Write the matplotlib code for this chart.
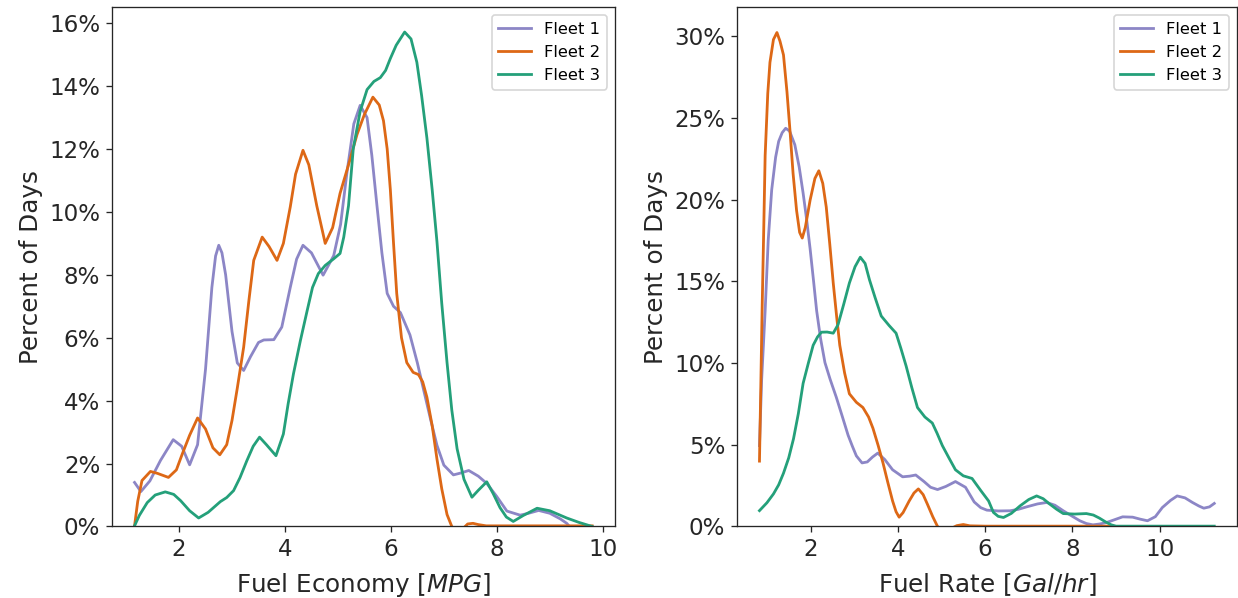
import matplotlib
matplotlib.use('Agg')
import matplotlib.pyplot as plt
from matplotlib.ticker import PercentFormatter

# Fuel economy [MPG] vs percent of days
mpg_f1_x = [1.16, 1.28, 1.45, 1.65, 1.89, 2.05, 2.2, 2.35, 2.5, 2.62, 2.69, 2.75, 2.81, 2.88, 3.0, 3.1,
            3.22, 3.35, 3.5, 3.6, 3.79, 3.94, 4.1, 4.22, 4.34, 4.5, 4.72, 4.92, 5.05, 5.17, 5.3, 5.42,
            5.55, 5.64, 5.74, 5.83, 5.93, 6.05, 6.18, 6.36, 6.5, 6.62, 6.75, 6.87, 7.0, 7.18, 7.32,
            7.47, 7.65, 7.81, 8.0, 8.19, 8.44, 8.6, 8.79, 9.0, 9.2, 9.32, 9.45]
mpg_f1_y = [1.4, 1.11, 1.45, 2.1, 2.76, 2.55, 1.96, 2.6, 5.0, 7.6, 8.6, 8.94, 8.7, 8.0, 6.2, 5.2,
            4.96, 5.4, 5.85, 5.93, 5.94, 6.34, 7.6, 8.5, 8.94, 8.7, 7.99, 8.61, 9.6, 11.25, 12.8, 13.39,
            13.0, 11.8, 10.15, 8.7, 7.41, 7.0, 6.8, 6.09, 5.2, 4.33, 3.4, 2.58, 1.95, 1.64, 1.7,
            1.78, 1.6, 1.37, 0.95, 0.49, 0.36, 0.42, 0.51, 0.42, 0.24, 0.1, -0.15]

mpg_f2_x = [1.16, 1.22, 1.3, 1.46, 1.59, 1.8, 1.95, 2.06, 2.2, 2.35, 2.5, 2.64, 2.77, 2.9, 3.0, 3.1,
            3.22, 3.32, 3.41, 3.57, 3.7, 3.85, 3.97, 4.1, 4.2, 4.34, 4.45, 4.6, 4.76, 4.9, 5.04, 5.2,
            5.36, 5.5, 5.66, 5.78, 5.86, 5.93, 5.99, 6.05, 6.11, 6.2, 6.3, 6.42, 6.52, 6.6, 6.68,
            6.78, 6.87, 6.96, 7.06, 7.15, 7.28, 7.45, 7.55, 7.65, 7.8, 8.2, 8.8, 9.3, 9.8]
mpg_f2_y = [0.02, 0.8, 1.46, 1.75, 1.69, 1.56, 1.8, 2.3, 2.9, 3.45, 3.1, 2.5, 2.28, 2.6, 3.37, 4.4,
            5.7, 7.2, 8.46, 9.2, 8.9, 8.46, 9.0, 10.16, 11.2, 11.96, 11.5, 10.2, 9.0, 9.5, 10.59, 11.5,
            12.46, 13.1, 13.65, 13.4, 12.9, 12.0, 10.7, 9.0, 7.41, 6.0, 5.21, 4.9, 4.83, 4.6, 4.11,
            3.2, 2.14, 1.2, 0.38, 0.0, -0.2, 0.08, 0.1, 0.06, 0.02, 0.02, 0.02, 0.02, 0.02]

mpg_f3_x = [1.16, 1.25, 1.4, 1.55, 1.74, 1.9, 2.03, 2.2, 2.37, 2.55, 2.78, 2.9, 3.03, 3.15, 3.28, 3.4,
            3.52, 3.65, 3.83, 3.97, 4.06, 4.16, 4.29, 4.42, 4.52, 4.63, 4.76, 4.92, 5.04, 5.11, 5.2,
            5.29, 5.42, 5.55, 5.68, 5.8, 5.9, 5.99, 6.1, 6.26, 6.38, 6.49, 6.58, 6.68, 6.78, 6.87,
            6.96, 7.06, 7.15, 7.25, 7.38, 7.53, 7.65, 7.81, 7.93, 8.06, 8.18, 8.31, 8.5, 8.76, 9.0,
            9.32, 9.55, 9.8]
mpg_f3_y = [0.02, 0.35, 0.76, 1.0, 1.1, 1.02, 0.82, 0.5, 0.27, 0.45, 0.79, 0.92, 1.14, 1.55, 2.09, 2.55,
            2.84, 2.6, 2.25, 2.94, 3.9, 4.85, 5.9, 6.87, 7.6, 8.04, 8.3, 8.51, 8.68, 9.2, 10.2,
            12.02, 13.2, 13.89, 14.15, 14.27, 14.5, 14.88, 15.3, 15.72, 15.5, 14.76, 13.7, 12.35, 10.7, 9.05,
            7.1, 5.21, 3.7, 2.47, 1.5, 0.93, 1.15, 1.42, 1.05, 0.6, 0.3, 0.16, 0.35, 0.58, 0.5,
            0.27, 0.13, 0.0]

# Fuel rate [Gal/hr] vs percent of days
gal_f1_x = [0.83, 0.88, 0.96, 1.03, 1.11, 1.2, 1.27, 1.35, 1.43, 1.52, 1.64, 1.74, 1.83, 1.91, 1.99,
            2.07, 2.14, 2.23, 2.33, 2.45, 2.59, 2.72, 2.86, 2.96, 3.05, 3.18, 3.3, 3.42, 3.54, 3.7,
            3.88, 4.11, 4.27, 4.41, 4.6, 4.75, 4.91, 5.1, 5.32, 5.55, 5.75, 5.9, 6.04, 6.3, 6.57, 6.76,
            6.95, 7.2, 7.41, 7.6, 7.79, 8.0, 8.17, 8.32, 8.47, 8.62, 8.78, 8.95, 9.15, 9.38, 9.55, 9.72,
            9.9, 10.06, 10.25, 10.4, 10.58, 10.75, 10.9, 11.01, 11.14, 11.25]
gal_f1_y = [4.95, 9.0, 13.2, 17.5, 20.6, 22.6, 23.57, 24.1, 24.37, 24.2, 23.36, 22.0, 20.4, 18.8, 17.0,
            15.0, 13.2, 11.5, 10.03, 9.0, 7.91, 6.8, 5.59, 4.9, 4.32, 3.89, 3.95, 4.25, 4.49, 4.1,
            3.47, 3.04, 3.08, 3.15, 2.75, 2.4, 2.26, 2.45, 2.75, 2.4, 1.5, 1.15, 1.0, 0.95, 0.96, 1.05,
            1.2, 1.38, 1.47, 1.3, 0.96, 0.62, 0.35, 0.18, 0.1, 0.15, 0.24, 0.4, 0.59, 0.57, 0.45, 0.35,
            0.6, 1.16, 1.6, 1.87, 1.75, 1.47, 1.25, 1.12, 1.2, 1.41]

gal_f2_x = [0.83, 0.86, 0.89, 0.93, 0.96, 1.02, 1.07, 1.15, 1.23, 1.3, 1.38, 1.46, 1.53, 1.6, 1.68,
            1.75, 1.81, 1.88, 1.99, 2.1, 2.19, 2.28, 2.36, 2.44, 2.52, 2.6, 2.67, 2.78, 2.89, 3.05,
            3.2, 3.33, 3.43, 3.55, 3.66, 3.77, 3.88, 3.96, 4.03, 4.12, 4.26, 4.37, 4.47, 4.58, 4.68,
            4.8, 4.91, 5.05, 5.2, 5.35, 5.5, 5.65, 6.0, 7.0, 8.0, 8.9]
gal_f2_y = [4.0, 8.5, 13.2, 18.5, 22.7, 26.5, 28.4, 29.8, 30.23, 29.7, 28.86, 26.6, 24.2, 21.6, 19.34,
            18.0, 17.65, 18.3, 19.97, 21.3, 21.77, 21.0, 19.55, 17.3, 14.9, 12.8, 11.09, 9.4, 8.12, 7.6,
            7.28, 6.7, 6.01, 4.95, 3.89, 2.7, 1.56, 0.9, 0.57, 0.85, 1.56, 2.05, 2.3, 1.95, 1.35,
            0.6, 0.0, -0.3, -0.15, 0.05, 0.12, 0.04, 0.02, 0.02, 0.02, 0.02]

gal_f3_x = [0.83, 1.0, 1.15, 1.27, 1.38, 1.5, 1.61, 1.72, 1.83, 1.95, 2.06, 2.16, 2.25, 2.38, 2.52,
            2.63, 2.76, 2.89, 3.02, 3.14, 3.25, 3.35, 3.48, 3.62, 3.8, 3.96, 4.07, 4.19, 4.32, 4.45,
            4.62, 4.79, 4.9, 5.02, 5.17, 5.32, 5.5, 5.7, 5.9, 6.08, 6.19, 6.3, 6.42, 6.6, 6.8, 7.0,
            7.18, 7.33, 7.48, 7.64, 7.79, 8.05, 8.32, 8.48, 8.62, 8.76, 8.89, 9.0, 9.5, 10.0, 10.5,
            11.0, 11.25]
gal_f3_y = [0.97, 1.45, 1.99, 2.55, 3.26, 4.2, 5.37, 6.9, 8.76, 10.0, 11.09, 11.6, 11.89, 11.9, 11.83,
            12.35, 13.6, 14.9, 15.9, 16.48, 16.1, 15.1, 14.0, 12.88, 12.3, 11.83, 10.9, 9.82, 8.5, 7.28,
            6.7, 6.33, 5.7, 4.95, 4.2, 3.47, 3.1, 2.94, 2.2, 1.56, 0.86, 0.62, 0.55, 0.8, 1.26, 1.65,
            1.87, 1.7, 1.37, 1.05, 0.79, 0.76, 0.79, 0.7, 0.51, 0.28, 0.1, 0.02, 0.02, 0.02, 0.02,
            0.02, 0.02]

labels = ['Fleet 1', 'Fleet 2', 'Fleet 3']
colors = ['#8c86c6', '#dd6816', '#24a07a']


def draw(ax, series, xlabel, ymax):
    for (x, y), label, color in zip(series, labels, colors):
        ax.plot(x, y, color=color, lw=1.7, label=label)
    ax.set_ylim(0, ymax)
    ax.yaxis.set_major_formatter(PercentFormatter(xmax=100, decimals=0))
    ax.tick_params(labelsize=14, colors='#262626')
    for spine in ax.spines.values():
        spine.set_color('#262626')
    ax.set_xlabel(xlabel, fontsize=15, color='#262626', labelpad=6)
    ax.set_ylabel('Percent of Days', fontsize=15, color='#262626')
    ax.legend(loc='upper right', fontsize=10)


def main():
    dpi = 118
    fig = plt.figure(figsize=(1238 / dpi, 598 / dpi), dpi=dpi)
    ax1 = fig.add_axes([0.0902, 0.1196, 0.4066, 0.8689])
    ax2 = fig.add_axes([0.5951, 0.1196, 0.4041, 0.8689])

    draw(ax1, [(mpg_f1_x, mpg_f1_y), (mpg_f2_x, mpg_f2_y), (mpg_f3_x, mpg_f3_y)],
         'Fuel Economy [$MPG$]', 16.52)
    draw(ax2, [(gal_f1_x, gal_f1_y), (gal_f2_x, gal_f2_y), (gal_f3_x, gal_f3_y)],
         'Fuel Rate [$Gal/hr$]', 31.8)

    fig.savefig('out.png', dpi=dpi)


if __name__ == '__main__':
    main()
